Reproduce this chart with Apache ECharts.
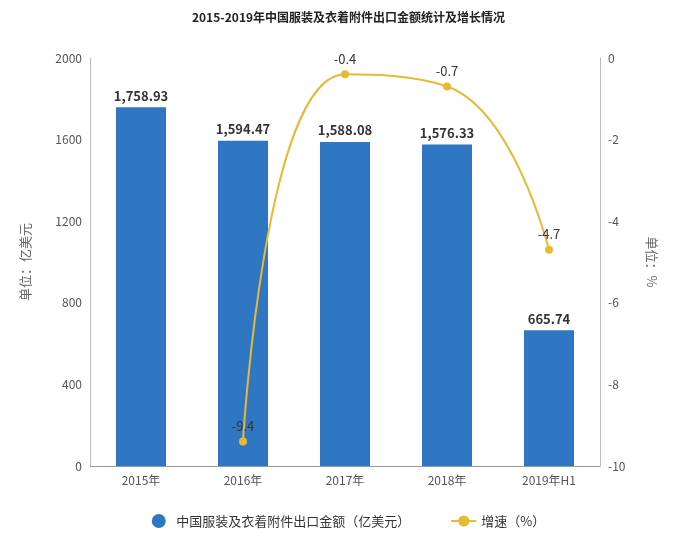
<!DOCTYPE html>
<html lang="zh">
<head>
  <meta charset="UTF-8">
  <title>2015-2019年中国服装及衣着附件出口金额统计及增长情况</title>
  <style>
    html, body { margin: 0; padding: 0; background: #fff; }
    #chart { width: 697px; height: 541px; }
  </style>
</head>
<body>
  <div id="chart"></div>
  <script src="https://cdn.jsdelivr.net/npm/echarts@6/dist/echarts.min.js"></script>
  <script>
    const years = ['2015年', '2016年', '2017年', '2018年', '2019年H1'];
    const exportValue = [1758.93, 1594.47, 1588.08, 1576.33, 665.74];
    const growth = ['-', -9.4, -0.4, -0.7, -4.7];

    const font = '"Noto Sans CJK SC", "Noto Sans", sans-serif';
    const fmt = v => v.toLocaleString('en-US', { minimumFractionDigits: 2 });

    let chart = echarts.init(document.getElementById('chart'));
    chart.setOption({
      textStyle: { fontFamily: font },
      title: {
        text: '2015-2019年中国服装及衣着附件出口金额统计及增长情况',
        left: 'center', top: 6,
        textStyle: { fontSize: 12, fontWeight: 'bold', color: '#222' }
      },
      legend: {
        bottom: 8, itemGap: 40,
        textStyle: { fontSize: 13, color: '#333' },
        data: [
          { name: '中国服装及衣着附件出口金额（亿美元）', icon: 'circle' },
          { name: '增速（%）' }
        ]
      },
      grid: { left: 90, right: 97, top: 58, bottom: 75 },
      xAxis: {
        type: 'category', data: years,
        axisLine: { lineStyle: { color: '#999' } },
        axisTick: { show: false },
        axisLabel: { color: '#555', fontSize: 12 }
      },
      yAxis: [{
        type: 'value', min: 0, max: 2000, interval: 400,
        name: '单位：亿美元', nameLocation: 'middle', nameGap: 58,
        nameTextStyle: { color: '#666', fontSize: 13 },
        axisLabel: { color: '#555', fontSize: 12, formatter: v => String(v) },
        axisLine: { show: true, lineStyle: { color: '#bbb' } },
        splitLine: { show: false }
      }, {
        type: 'value', min: -10, max: 0, interval: 2,
        name: '单位：%', nameLocation: 'middle', nameGap: 45, nameRotate: -90,
        nameTextStyle: { color: '#666', fontSize: 13 },
        axisLabel: { color: '#555', fontSize: 12 },
        axisLine: { show: true, lineStyle: { color: '#bbb' } },
        splitLine: { show: false }
      }],
      series: [{
        name: '中国服装及衣着附件出口金额（亿美元）',
        type: 'bar', data: exportValue, barWidth: 50,
        itemStyle: { color: '#2f77c3' },
        label: {
          show: true, position: 'top', fontWeight: 'bold', fontSize: 13, color: '#333',
          formatter: p => fmt(p.value)
        }
      }, {
        name: '增速（%）',
        type: 'line', yAxisIndex: 1, data: growth, smooth: true,
        symbol: 'circle', symbolSize: 8,
        lineStyle: { color: '#e8b935', width: 2 },
        itemStyle: { color: '#e8b935' },
        label: { show: true, position: 'top', fontSize: 13, color: '#333' }
      }]
    });
  </script>
</body>
</html>
